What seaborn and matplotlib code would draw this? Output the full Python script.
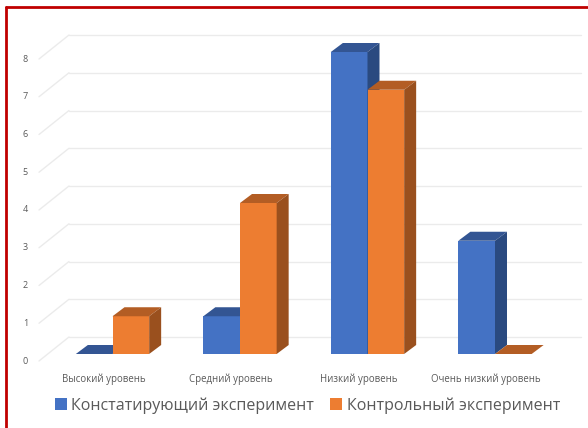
import pandas as pd
import seaborn as sns
from matplotlib import pyplot as plt
from matplotlib import transforms
from matplotlib.lines import Line2D
from matplotlib.patches import Polygon

# Chart values
categories = ['Высокий уровень', 'Средний уровень', 'Низкий уровень', 'Очень низкий уровень']
series_names = ['Констатирующий эксперимент', 'Контрольный эксперимент']
ascertaining = [0, 1, 8, 3]
control = [1, 4, 7, 0]
value_ticks = [0, 1, 2, 3, 4, 5, 6, 7, 8]

colors = ['#4472C4', '#ED7D31']
top_colors = ['#335593', '#B35D24']
side_colors = ['#2A4A80', '#9A501E']
text_color = '#595959'
grid_color = '#EBEBEB'

W, H = 588, 428
sns.set_theme(style='white')
plt.rcParams['font.family'] = ['Open Sans', 'DejaVu Sans']

df = pd.DataFrame({
    'category': categories * 2,
    'value': ascertaining + control,
    'series': [series_names[0]] * 4 + [series_names[1]] * 4,
})

fig = plt.figure(figsize=(W / 100, H / 100), dpi=100)

# Axes placed in pixels so 1 category = 127.5 px and 1 unit = 37.75 px
px_x = 127.5
px_y = 37.75
left, right, bottom, top = 30, 586, 354, 30
ax = fig.add_axes([left / W, 1 - bottom / H, (right - left) / W, (bottom - top) / H])

sns.barplot(data=df, x='category', y='value', hue='series', order=categories,
            hue_order=series_names, palette=colors, saturation=1, width=0.575,
            ax=ax, zorder=3, linewidth=0)
ax.set_xlim((left - 112.5) / px_x, (right - 112.5) / px_x)
ax.set_ylim(0, (bottom - top) / px_y)
ax.set_xlabel('')
ax.set_ylabel('')
sns.despine(ax=ax, left=True, bottom=True)

# Back wall grid and floor diagonals
wall_x0 = (69 - 112.5) / px_x
wall_x1 = (581 - 112.5) / px_x
edge_x = (39 - 112.5) / px_x
for v in value_ticks:
    back = v + 17 / px_y
    ax.plot([wall_x0, wall_x1], [back, back], color=grid_color, lw=1.0, zorder=1, clip_on=False)
    ax.plot([edge_x, wall_x0], [v - 7 / px_y, back], color=grid_color, lw=1.0, zorder=1, clip_on=False)

# Fake 3D depth: top and side faces taken from each bar
dx = 12 / px_x
dy = 9 / px_y
for i, bars in enumerate(ax.containers):
    for bar in bars:
        bar.set_zorder(3 + i)
        x0, x1, h = bar.get_x(), bar.get_x() + bar.get_width(), bar.get_height()
        ax.add_patch(Polygon([(x0, h), (x1, h), (x1 + dx, h + dy), (x0 + dx, h + dy)],
                             facecolor=top_colors[i], edgecolor='none', zorder=3 + i, clip_on=False))
        ax.add_patch(Polygon([(x1, 0), (x1 + dx, dy), (x1 + dx, h + dy), (x1, h)],
                             facecolor=side_colors[i], edgecolor='none', zorder=3 + i, clip_on=False))

# Tick labels
ax.set_yticks(value_ticks)
ax.set_yticklabels(value_ticks, fontsize=6.5, color=text_color)
ax.tick_params(axis='both', length=0)
ax.tick_params(axis='y', pad=0)
y_shift = transforms.ScaledTranslation(-2 / 100, -6 / 100, fig.dpi_scale_trans)
for label in ax.get_yticklabels():
    label.set_transform(label.get_transform() + y_shift)
ax.set_xticks(range(len(categories)))
ax.set_xticklabels(categories, fontsize=6.9, color=text_color)
ax.tick_params(axis='x', pad=14)
x_shift = transforms.ScaledTranslation(-9 / 100, 0, fig.dpi_scale_trans)
for label in ax.get_xticklabels():
    label.set_transform(label.get_transform() + x_shift)

# Legend along the bottom
sns.move_legend(ax, 'center', bbox_to_anchor=(307.5 / W, 1 - 405.5 / H),
                bbox_transform=fig.transFigure, ncol=2, title=None, frameon=False,
                fontsize=11.5, labelcolor=text_color, handlelength=0.75, handleheight=0.75,
                handletextpad=0.3, columnspacing=1.0)

# Red frame of the screenshot
fig.add_artist(Line2D([6 / W, 6 / W], [0, 1 - 7 / H], color='#C00000', lw=2))
fig.add_artist(Line2D([6 / W, 1], [1 - 7 / H, 1 - 7 / H], color='#C00000', lw=2))

fig.savefig('out.png', dpi=100)
